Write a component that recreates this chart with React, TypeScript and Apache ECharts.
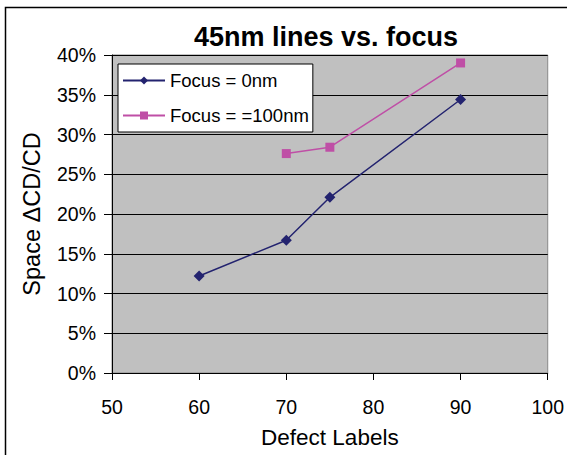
import React, { useEffect, useRef } from "react";
import * as echarts from "echarts";

const xFocus0 = [60, 70, 75, 90];
const yFocus0 = [12.2, 16.7, 22.1, 34.4];
const xFocus100 = [70, 75, 90];
const yFocus100 = [27.6, 28.4, 39.0];
const seriesNames = ["Focus = 0nm", "Focus = =100nm"];
const titleText = "45nm lines vs. focus";
const xTitle = "Defect Labels";
const yTitle = "Space \u0394CD/CD";

export default function App() {
  const ref = useRef<HTMLDivElement>(null);
  useEffect(() => {
    if (!ref.current) return;
    const chart = echarts.init(ref.current, undefined, { renderer: "svg" });
    const font = "'Liberation Sans', Arial, sans-serif";
    chart.setOption({
      animation: false,
      backgroundColor: "#ffffff",
      textStyle: { fontFamily: font },
      title: {
        text: titleText,
        left: 321,
        top: 18,
        textAlign: "center",
        textStyle: { fontFamily: font, fontWeight: "bold", fontSize: 27, color: "#000" },
      },
      graphic: [
        {
          type: "rect",
          shape: { x: 5.5, y: 7.5, width: 700, height: 600 },
          style: { fill: "none", stroke: "#000", lineWidth: 1.5 },
          silent: true,
        },
      ],
      legend: {
        orient: "vertical",
        left: 118,
        top: 64,
        backgroundColor: "#ffffff",
        borderColor: "#000",
        borderWidth: 1,
        borderRadius: 0,
        padding: [7, 4, 7, 4],
        itemWidth: 42,
        itemHeight: 10,
        itemGap: 16,
        textStyle: { fontFamily: font, fontSize: 18.5, color: "#000" },
        data: seriesNames,
      },
      grid: {
        left: 112,
        right: 15,
        top: 55,
        bottom: 82,
        show: true,
        backgroundColor: "#C0C0C0",
        borderColor: "#888888",
        borderWidth: 1,
      },
      xAxis: {
        type: "value",
        min: 50,
        max: 100,
        interval: 10,
        name: xTitle,
        nameLocation: "middle",
        nameGap: 53,
        nameTextStyle: { fontFamily: font, fontSize: 22.5, color: "#000" },
        axisLine: { show: true, lineStyle: { color: "#000", width: 1 } },
        axisTick: { show: true, inside: false, length: 7, lineStyle: { color: "#000" } },
        axisLabel: { margin: 24, fontFamily: font, fontSize: 19.5, color: "#000" },
        splitLine: { show: false },
      },
      yAxis: {
        type: "value",
        min: 0,
        max: 40,
        interval: 5,
        name: yTitle,
        nameLocation: "middle",
        nameGap: 68,
        nameRotate: 90,
        nameTextStyle: { fontFamily: font, fontSize: 23.5, color: "#000" },
        axisLine: { show: true, lineStyle: { color: "#000", width: 1 } },
        axisTick: { show: true, inside: false, length: 8, lineStyle: { color: "#000" } },
        axisLabel: { margin: 16, fontFamily: font, fontSize: 19.5, color: "#000", formatter: "{value}%" },
        splitLine: { show: true, lineStyle: { color: "#000", width: 1 } },
      },
      series: [
        {
          name: seriesNames[0],
          type: "line",
          data: xFocus0.map((x, i) => [x, yFocus0[i]]),
          symbol: "diamond",
          symbolSize: 11,
          showAllSymbol: true,
          itemStyle: { color: "#23236F" },
          lineStyle: { color: "#23236F", width: 1.5 },
        },
        {
          name: seriesNames[1],
          type: "line",
          data: xFocus100.map((x, i) => [x, yFocus100[i]]),
          symbol: "rect",
          symbolSize: 9,
          showAllSymbol: true,
          itemStyle: { color: "#BF4FA6" },
          lineStyle: { color: "#BF4FA6", width: 1.5 },
        },
      ],
    });
    return () => chart.dispose();
  }, []);
  return (
    <div
      ref={ref}
      style={{ position: "absolute", left: 0, top: 0, width: 567, height: 455 }}
    />
  );
}
